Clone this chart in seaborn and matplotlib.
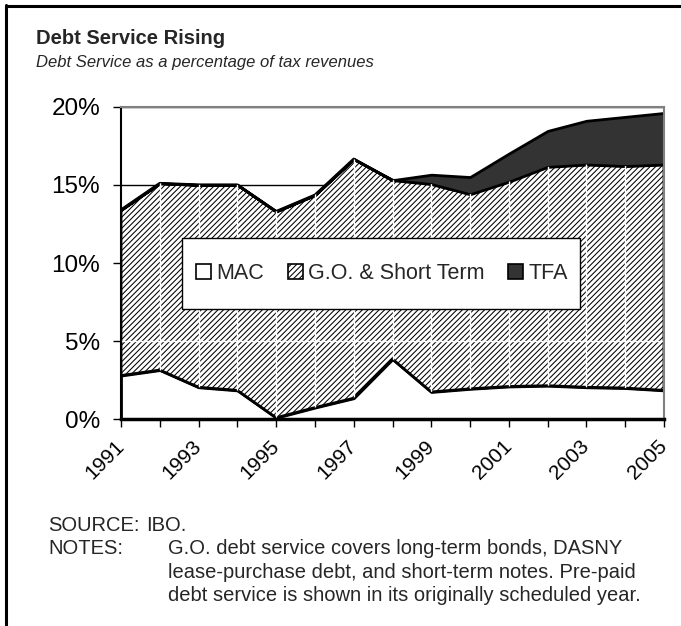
import matplotlib
matplotlib.use("Agg")
import matplotlib.pyplot as plt
from matplotlib.patches import Patch, Rectangle
from matplotlib.lines import Line2D
import seaborn as sns
import pandas as pd

# Debt service as a share of tax revenues (%), fiscal years 1991-2005
years = list(range(1991, 2006))
mac = [2.8, 3.15, 2.05, 1.85, 0.1, 0.75, 1.35, 3.85, 1.75, 1.95, 2.1, 2.15, 2.05, 2.0, 1.85]
go_short_term = [10.6, 11.95, 12.95, 13.15, 13.2, 13.6, 15.3, 11.45, 13.3, 12.45, 13.1, 14.0, 14.25, 14.2, 14.45]
tfa = [0, 0, 0, 0, 0, 0, 0, 0, 0.6, 1.1, 1.8, 2.3, 2.8, 3.15, 3.3]

series_names = ["MAC", "G.O. & Short Term", "TFA"]
y_ticks = [0, 5, 10, 15, 20]
x_labels = [str(y) if (y - 1991) % 2 == 0 else "" for y in years]

df = pd.DataFrame({"year": years, "MAC": mac,
                   "G.O. & Short Term": go_short_term, "TFA": tfa})

sns.set_theme(style="white")
plt.rcParams["font.family"] = ["Liberation Sans", "DejaVu Sans"]
plt.rcParams["hatch.linewidth"] = 0.75

W, H = 681, 626
fig = plt.figure(figsize=(W / 100, H / 100), dpi=100)
fig.patch.set_facecolor("white")


def fx(px):
    return px / W


def fy(py):
    return 1 - py / H


ax_left, ax_right, ax_top, ax_bottom = 121, 664, 106.7, 419.3
ax = fig.add_axes([fx(ax_left), fy(ax_bottom), fx(ax_right - ax_left),
                   (ax_bottom - ax_top) / H])
ax.set_facecolor("white")

HATCH = "//////"
polys = ax.stackplot(df["year"], df["MAC"], df["G.O. & Short Term"], df["TFA"],
                     colors=["white", "white", "#333333"],
                     edgecolor="black", linewidth=2.0, zorder=2)
polys[1].set_hatch(HATCH)

# thin white seams through the hatched band
hatch_path = polys[1].get_paths()[0]
vl = ax.vlines(years[1:-1], 0, 20, colors="white", linewidth=1.0, zorder=2.1)
vl.set_clip_path(hatch_path, ax.transData)
hl = ax.hlines([5], years[0], years[-1], colors="white", linewidth=1.0, zorder=2.1)
hl.set_clip_path(hatch_path, ax.transData)

ax.set_xlim(years[0], years[-1])
ax.set_ylim(0, 20)
ax.set_yticks(y_ticks)
ax.set_yticklabels([f"{v}%" for v in y_ticks])
ax.set_xticks(years)
ax.set_xticklabels(x_labels, rotation=45, ha="right", va="center",
                   rotation_mode="anchor")

ax.set_axisbelow(True)
ax.yaxis.grid(True, color="black", linewidth=1.0)
ax.xaxis.grid(False)

for side in ("top", "right"):
    ax.spines[side].set_color("#808080")
    ax.spines[side].set_linewidth(1.5)
ax.spines["left"].set_color("black")
ax.spines["left"].set_linewidth(1.5)
ax.spines["bottom"].set_color("black")
ax.spines["bottom"].set_linewidth(2.5)
for sp in ax.spines.values():
    sp.set_zorder(3)

ax.tick_params(axis="y", which="both", left=True, length=6, width=1.0,
               color="black", labelsize=17.5, pad=9, direction="out")
ax.tick_params(axis="x", which="both", bottom=True, length=6, width=1.0,
               color="black", labelsize=15, pad=11, direction="out")
for lab in ax.get_xticklabels() + ax.get_yticklabels():
    lab.set_color("black")

# legend box
x0, x1 = (181.7 - ax_left) / (ax_right - ax_left), (580 - ax_left) / (ax_right - ax_left)
y0, y1 = (ax_bottom - 309) / (ax_bottom - ax_top), (ax_bottom - 238) / (ax_bottom - ax_top)
ax.add_patch(Rectangle((x0, y0), x1 - x0, y1 - y0, transform=ax.transAxes,
                       facecolor="white", edgecolor="black", linewidth=1.0,
                       zorder=4))
handles = [
    Patch(facecolor="white", edgecolor="black", linewidth=1.2),
    Patch(facecolor="white", edgecolor="black", linewidth=1.2, hatch=HATCH),
    Patch(facecolor="#333333", edgecolor="black", linewidth=1.2),
]
leg = ax.legend(handles, series_names, loc="center",
                bbox_to_anchor=((x0 + x1) / 2 + 0.002, (y0 + y1) / 2), ncol=3,
                frameon=False, fontsize=15.5, handlelength=0.7,
                handleheight=0.7, handletextpad=0.25, columnspacing=1.1,
                borderpad=0, borderaxespad=0)
leg.set_zorder(5)

# headings
fig.text(fx(35.5), fy(43.5), "Debt Service Rising", fontsize=14.5,
         fontweight="bold", va="baseline", ha="left")
fig.text(fx(36), fy(66.7), "Debt Service as a percentage of tax revenues",
         fontsize=12, fontstyle="italic", va="baseline", ha="left")

# source and notes
fs = 14.5
fig.text(fx(48), fy(531), "SOURCE:", fontsize=fs, va="baseline")
fig.text(fx(146), fy(531), "IBO.", fontsize=fs, va="baseline")
fig.text(fx(48), fy(554.5), "NOTES:", fontsize=fs, va="baseline")
notes = ["G.O. debt service covers long-term bonds, DASNY",
         "lease-purchase debt, and short-term notes. Pre-paid",
         "debt service is shown in its originally scheduled year."]
for i, line in enumerate(notes):
    fig.text(fx(168), fy(554.5 + i * 23.3), line, fontsize=fs, va="baseline")

# outer frame (top and left edges)
fig.add_artist(Line2D([fx(6), 1], [fy(6), fy(6)], color="black", linewidth=2.2,
                      transform=fig.transFigure))
fig.add_artist(Line2D([fx(6), fx(6)], [fy(5), 0], color="black", linewidth=2.2,
                      transform=fig.transFigure))

fig.savefig("out.png", dpi=100, facecolor="white")
